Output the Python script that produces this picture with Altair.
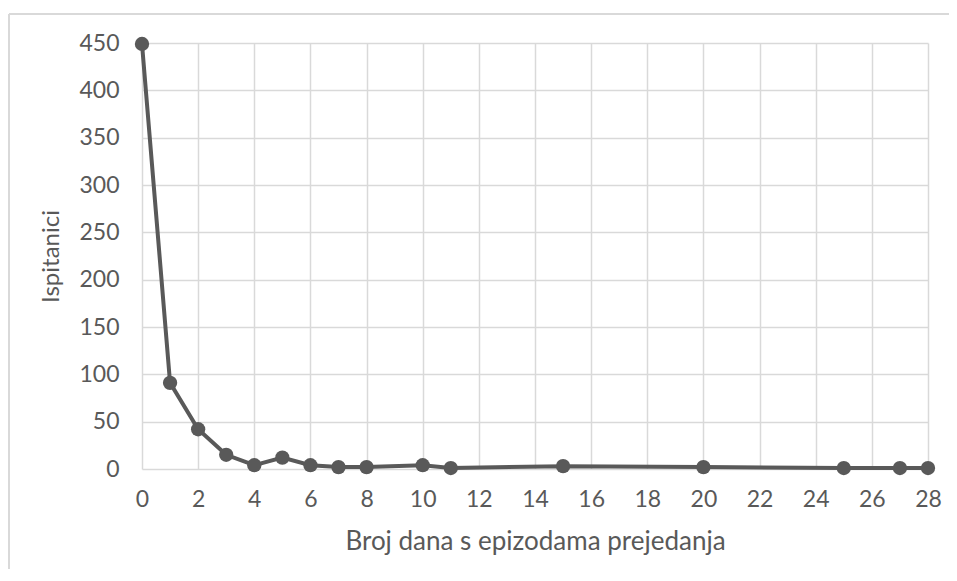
import altair as alt
import pandas as pd

days = [0, 1, 2, 3, 4, 5, 6, 7, 8, 10, 11, 15, 20, 25, 27, 28]
respondents = [449, 91, 42, 15, 4, 12, 4, 2, 2, 4, 1, 3, 2, 1, 1, 1]
x_ticks = list(range(0, 29, 2))
y_ticks = list(range(0, 451, 50))

df = pd.DataFrame({"dani": days, "ispitanici": respondents})

GRAY = "#595959"
GRID = "#d9d9d9"
FONT = "Lato"

W, H = 786, 426

x = alt.X("dani:Q", title="Broj dana s epizodama prejedanja",
          scale=alt.Scale(domain=[0, 28], nice=False),
          axis=alt.Axis(values=x_ticks, grid=True, ticks=False, domain=False,
                        labelPadding=19, titlePadding=17, labelFontSize=23,
                        titleFontSize=26, labelFlush=False))
y = alt.Y("ispitanici:Q", title="Ispitanici",
          scale=alt.Scale(domain=[0, 450], nice=False),
          axis=alt.Axis(values=y_ticks, grid=True, ticks=False, domain=False,
                        labelPadding=23, titlePadding=15, labelFontSize=23,
                        titleFontSize=24, labelFlush=False))

line = alt.Chart(df).mark_line(color=GRAY, strokeWidth=4).encode(x=x, y=y)
pts = alt.Chart(df).mark_point(filled=True, color=GRAY, opacity=1, size=205).encode(x=x, y=y)

border_v = alt.Chart(df).mark_rule(color=GRID, strokeWidth=1.5).encode(
    x=alt.value(-133), y=alt.value(-29), y2=alt.value(H + 100))
border_h = alt.Chart(df).mark_rule(color=GRID, strokeWidth=1.5).encode(
    x=alt.value(-133), x2=alt.value(W + 21), y=alt.value(-29))

chart = alt.layer(border_v, border_h, line, pts).properties(
    width=W, height=H,
    autosize=alt.AutoSizeParams(type="none"),
    padding={"left": 134, "top": 35, "right": 21, "bottom": 100},
    background="white",
).configure_view(stroke=None).configure_axis(
    gridColor=GRID, gridWidth=1.5, labelColor=GRAY, titleColor=GRAY,
    labelFont=FONT, titleFont=FONT, titleFontWeight="normal",
)

chart.save("out.html", embed_options={"renderer": "svg", "actions": False})
